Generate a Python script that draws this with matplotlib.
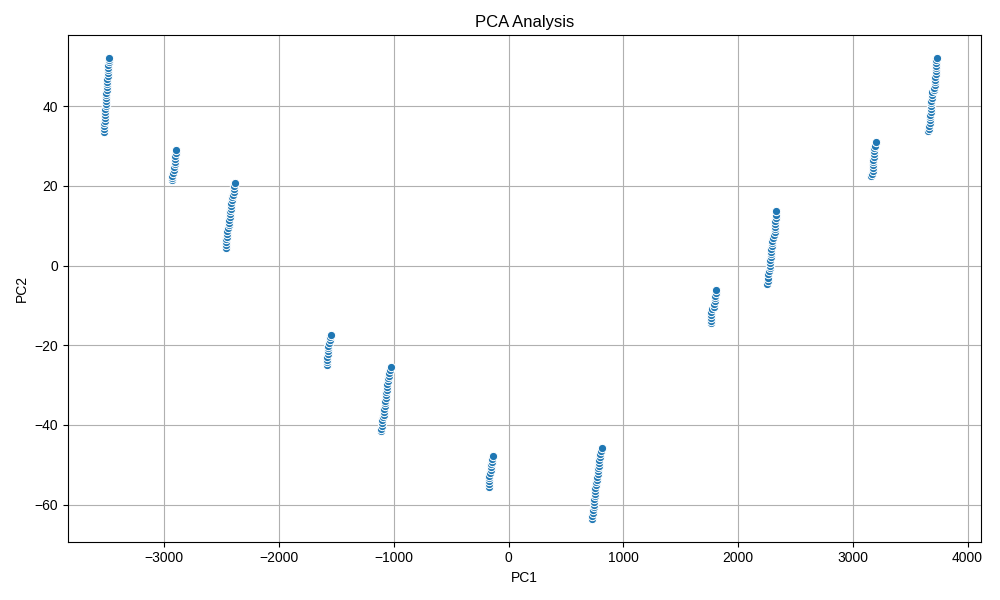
import numpy as np
import matplotlib
matplotlib.use("Agg")
import matplotlib.pyplot as plt

plt.rcParams['font.family'] = ['Liberation Sans', 'DejaVu Sans']

# PC1 / PC2 values, one pair of lists per group of points
pc1_a = [-3528, -3526, -3524, -3523, -3521, -3520, -3518, -3516, -3515, -3513, -3512, -3510, -3508, -3507,
         -3505, -3503, -3502, -3500, -3498, -3497, -3495, -3494, -3492, -3490, -3488, -3487, -3485, -3483]
pc2_a = [33.5, 34.2, 35.0, 35.7, 36.4, 37.1, 37.8, 38.5, 39.2, 40.0, 40.6, 41.3, 42.0, 42.7,
         43.4, 44.1, 44.8, 45.5, 46.2, 46.9, 47.6, 48.3, 49.0, 49.7, 50.4, 51.1, 51.5, 52.0]

pc1_b = [-2935, -2933, -2930, -2928, -2915, -2913, -2911, -2909, -2907, -2905, -2902, -2898]
pc2_b = [21.5, 22.0, 22.5, 23.2, 24.0, 24.7, 25.4, 26.1, 26.8, 27.5, 28.2, 29.0]

pc1_c = [-2465, -2463, -2461, -2459, -2457, -2455, -2453, -2445, -2440, -2437, -2434, -2431,
         -2428, -2425, -2422, -2419, -2416, -2413, -2410, -2400, -2397, -2394, -2391, -2388]
pc2_c = [4.5, 5.2, 5.9, 6.6, 7.3, 8.0, 8.7, 9.4, 10.1, 10.8, 11.5, 12.2,
         12.9, 13.6, 14.3, 15.0, 15.7, 16.4, 17.1, 17.8, 18.5, 19.2, 20.0, 20.8]

pc1_d = [-1585, -1583, -1582, -1580, -1578, -1577, -1575, -1573, -1565, -1560, -1555, -1549]
pc2_d = [-25.0, -24.3, -23.6, -22.9, -22.2, -21.5, -20.8, -20.1, -19.4, -18.7, -18.0, -17.4]

pc1_e = [-1110, -1108, -1106, -1104, -1102, -1099, -1090, -1087, -1084, -1081, -1078, -1075,
         -1072, -1069, -1066, -1063, -1060, -1057, -1054, -1048, -1044, -1040, -1032, -1026]
pc2_e = [-41.6, -40.9, -40.2, -39.5, -38.8, -38.1, -37.4, -36.7, -36.0, -35.3, -34.6, -33.9,
         -33.2, -32.5, -31.8, -31.1, -30.4, -29.7, -29.0, -28.3, -27.6, -26.9, -26.2, -25.4]

pc1_f = [-175, -173, -172, -170, -168, -160, -156, -152, -150, -148, -146, -138]
pc2_f = [-55.5, -54.8, -54.1, -53.4, -52.7, -52.0, -51.3, -50.6, -49.9, -49.2, -48.5, -47.8]

pc1_g = [725, 728, 735, 740, 742, 744, 746, 748, 750, 752, 755, 757, 759,
         762, 770, 773, 776, 779, 782, 785, 788, 791, 794, 797, 806, 814]
pc2_g = [-63.5, -62.8, -62.1, -61.4, -60.7, -60.0, -59.3, -58.6, -57.9, -57.2, -56.5, -55.8, -55.1,
         -54.4, -53.7, -53.0, -52.3, -51.6, -50.9, -50.2, -49.5, -48.8, -48.1, -47.4, -46.6, -45.7]

pc1_h = [1760, 1762, 1764, 1766, 1768, 1775, 1790, 1793, 1796, 1799, 1801, 1804, 1808]
pc2_h = [-14.5, -13.8, -13.1, -12.4, -11.7, -11.0, -10.3, -9.6, -8.9, -8.2, -7.5, -6.8, -6.0]

pc1_i = [2255, 2257, 2260, 2262, 2270, 2275, 2278, 2280, 2282, 2284, 2286, 2288, 2290,
         2293, 2296, 2299, 2302, 2315, 2318, 2320, 2322, 2324, 2326, 2328, 2330, 2335]
pc2_i = [-4.5, -3.8, -3.1, -2.2, -1.4, -0.7, 0.0, 0.7, 1.4, 2.1, 2.8, 3.5, 4.2,
         4.9, 5.6, 6.3, 7.0, 7.7, 8.4, 9.1, 9.8, 10.5, 11.2, 11.9, 12.6, 13.8]

pc1_j = [3163, 3168, 3172, 3174, 3176, 3178, 3180, 3182, 3184, 3186, 3188, 3192, 3199]
pc2_j = [22.4, 23.1, 23.8, 24.5, 25.2, 25.9, 26.6, 27.3, 28.0, 28.7, 29.4, 30.1, 31.0]

pc1_k = [3652, 3665, 3668, 3670, 3672, 3674, 3676, 3678, 3680, 3682, 3684, 3686, 3688, 3690,
         3692, 3710, 3712, 3714, 3716, 3718, 3720, 3722, 3724, 3726, 3727, 3728, 3729, 3731]
pc2_k = [33.9, 34.4, 35.1, 35.8, 36.5, 37.2, 37.9, 38.6, 39.3, 40.0, 40.7, 41.4, 42.1, 42.8,
         43.5, 44.1, 44.6, 45.3, 46.0, 46.7, 47.4, 48.1, 48.8, 49.5, 50.2, 50.9, 51.6, 52.2]

pc1 = np.concatenate([pc1_a, pc1_b, pc1_c, pc1_d, pc1_e, pc1_f, pc1_g, pc1_h, pc1_i, pc1_j, pc1_k])
pc2 = np.concatenate([pc2_a, pc2_b, pc2_c, pc2_d, pc2_e, pc2_f, pc2_g, pc2_h, pc2_i, pc2_j, pc2_k])

plt.figure(figsize=(10, 6))
plt.scatter(pc1, pc2, s=36, color='#1f77b4', edgecolors='white', linewidths=0.75, zorder=3)
plt.xlabel("PC1")
plt.ylabel("PC2")
plt.title("PCA Analysis")
plt.grid(True)
plt.xlim(-3840, 4115)
plt.ylim(-69.3, 57.8)
plt.tight_layout()
plt.savefig("out.png", dpi=100)
